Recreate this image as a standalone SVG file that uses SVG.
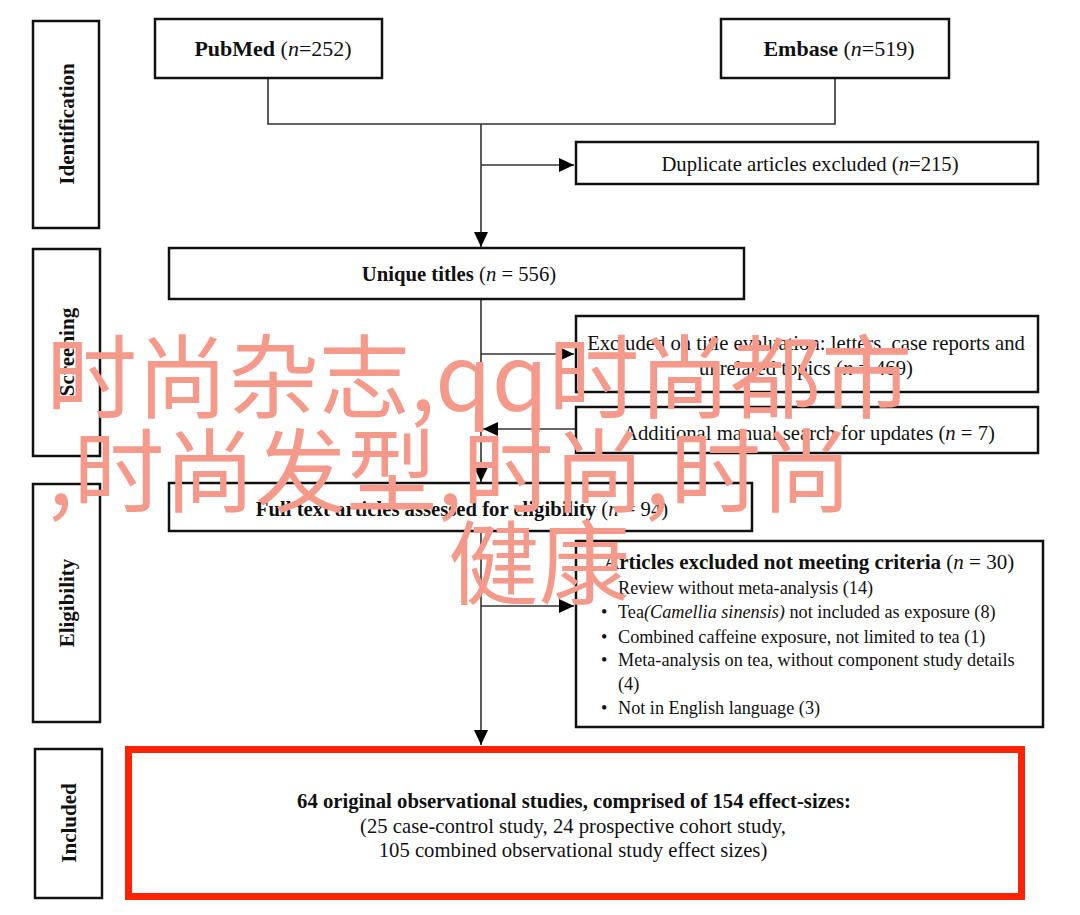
<svg xmlns="http://www.w3.org/2000/svg" width="1080" height="915" viewBox="0 0 1080 915">
<defs>
<style>
.box{fill:#fff;stroke:#111;stroke-width:2.5}
.lab{fill:#fff;stroke:#111;stroke-width:2.5}
.t{font-family:"Liberation Serif","Times New Roman",serif;font-size:20.7px;fill:#111}
.s{font-size:18.2px}
.h{font-size:22px}
.c{text-anchor:middle}
.b{font-weight:bold}
.i{font-style:italic}
.side{font-family:"Liberation Serif","Times New Roman",serif;font-size:21px;font-weight:bold;fill:#111;text-anchor:middle}
.con{fill:none;stroke:#333;stroke-width:1.6}
.wm{font-family:"Noto Sans CJK SC","Noto Sans",sans-serif;font-size:91px;fill:#f5998a}
</style>
<marker id="ah" markerUnits="userSpaceOnUse" markerWidth="16" markerHeight="14" refX="15" refY="7" orient="auto">
<path d="M0,0 L15,7 L0,14 Z" fill="#000"/>
</marker>
</defs>
<rect width="1080" height="915" fill="#fff"/>

<g id="stage-identification"><rect class="lab" x="33" y="21" width="66" height="207"/><text class="side" transform="translate(74,124) rotate(-90)">Identification</text></g>
<g id="stage-screening"><rect class="lab" x="33" y="249" width="67" height="207"/><text class="side" transform="translate(74,352) rotate(-90)">Screening</text></g>
<g id="stage-eligibility"><rect class="lab" x="33" y="484" width="67" height="238"/><text class="side" transform="translate(74,603) rotate(-90)">Eligibility</text></g>
<g id="stage-included"><rect class="lab" x="35" y="749" width="67" height="149"/><text class="side" transform="translate(76,823) rotate(-90)">Included</text></g>

<g id="connectors">
<path class="con" d="M268,79 V124 H835 V79"/>
<path class="con" d="M481,124 V247" marker-end="url(#ah)"/>
<path class="con" d="M481,165 H574" marker-end="url(#ah)"/>
<path class="con" d="M481,300 V482" marker-end="url(#ah)"/>
<path class="con" d="M481,354 H574" marker-end="url(#ah)"/>
<path class="con" d="M576,429 H483" marker-end="url(#ah)"/>
<path class="con" d="M481,532 V745" marker-end="url(#ah)"/>
<path class="con" d="M481,606 H574" marker-end="url(#ah)"/>
</g>

<g id="pubmed"><rect class="box" x="155" y="19" width="227" height="59"/><text class="t h c" x="273" y="56"><tspan class="b">PubMed</tspan> (<tspan class="i">n</tspan>=252)</text></g>
<g id="embase"><rect class="box" x="721" y="19" width="228" height="59"/><text class="t h c" x="839" y="56"><tspan class="b">Embase</tspan> (<tspan class="i">n</tspan>=519)</text></g>
<g id="duplicates"><rect class="box" x="576" y="142" width="462" height="42"/><text class="t c" x="810" y="171">Duplicate articles excluded (<tspan class="i">n</tspan>=215)</text></g>
<g id="unique"><rect class="box" x="169" y="248" width="575" height="51"/><text class="t c" x="459" y="281"><tspan class="b">Unique titles</tspan> (<tspan class="i">n</tspan> = 556)</text></g>
<g id="excluded-title"><rect class="box" x="576" y="316" width="462" height="76"/><text class="t c" x="806" y="350">Excluded on title evaluation: letters, case reports and</text><text class="t c" x="806" y="375">unrelated topics (<tspan class="i">n</tspan> = 469)</text></g>
<g id="additional"><rect class="box" x="576" y="407" width="462" height="46"/><text class="t c" x="809" y="440">Additional manual search for updates (<tspan class="i">n</tspan> = 7)</text></g>
<g id="fulltext"><rect class="box" x="169" y="483" width="583" height="48"/><text class="t c" x="462" y="516"><tspan class="b">Full text articles assessed for eligibility</tspan> (<tspan class="i">n</tspan> = 94)</text></g>
<g id="excluded-criteria"><rect class="box" x="576" y="541" width="467" height="186"/>
<text class="t" x="604" y="569" style="font-size:21px"><tspan class="b">Articles excluded not meeting criteria</tspan> (<tspan class="i">n</tspan> = 30)</text>
<text class="t s" x="601" y="594">•</text><text class="t s" x="618" y="594">Review without meta-analysis (14)</text>
<text class="t s" x="601" y="618">•</text><text class="t s" x="618" y="618">Tea<tspan class="i">(Camellia sinensis)</tspan> not included as exposure (8)</text>
<text class="t s" x="601" y="643">•</text><text class="t s" x="618" y="643">Combined caffeine exposure, not limited to tea (1)</text>
<text class="t s" x="601" y="666">•</text><text class="t s" x="618" y="666">Meta-analysis on tea, without component study details</text>
<text class="t s" x="618" y="690">(4)</text>
<text class="t s" x="601" y="714">•</text><text class="t s" x="618" y="714">Not in English language (3)</text>
</g>
<g id="included"><rect x="128.5" y="749.5" width="893" height="147" fill="#fff" stroke="#ff2200" stroke-width="7"/>
<text class="t c b" x="574" y="808">64 original observational studies, comprised of 154 effect-sizes:</text>
<text class="t c" x="573" y="833">(25 case-control study, 24 prospective cohort study,</text>
<text class="t c" x="573" y="857">105 combined observational study effect sizes)</text>
</g>

<g id="watermark">
<text class="wm" x="46" y="411">时尚杂志,qq时尚都市</text>
<text class="wm" x="48" y="505">,时尚发型,时尚,时尚</text>
<text class="wm" x="448" y="597">健康</text>
</g>
</svg>
